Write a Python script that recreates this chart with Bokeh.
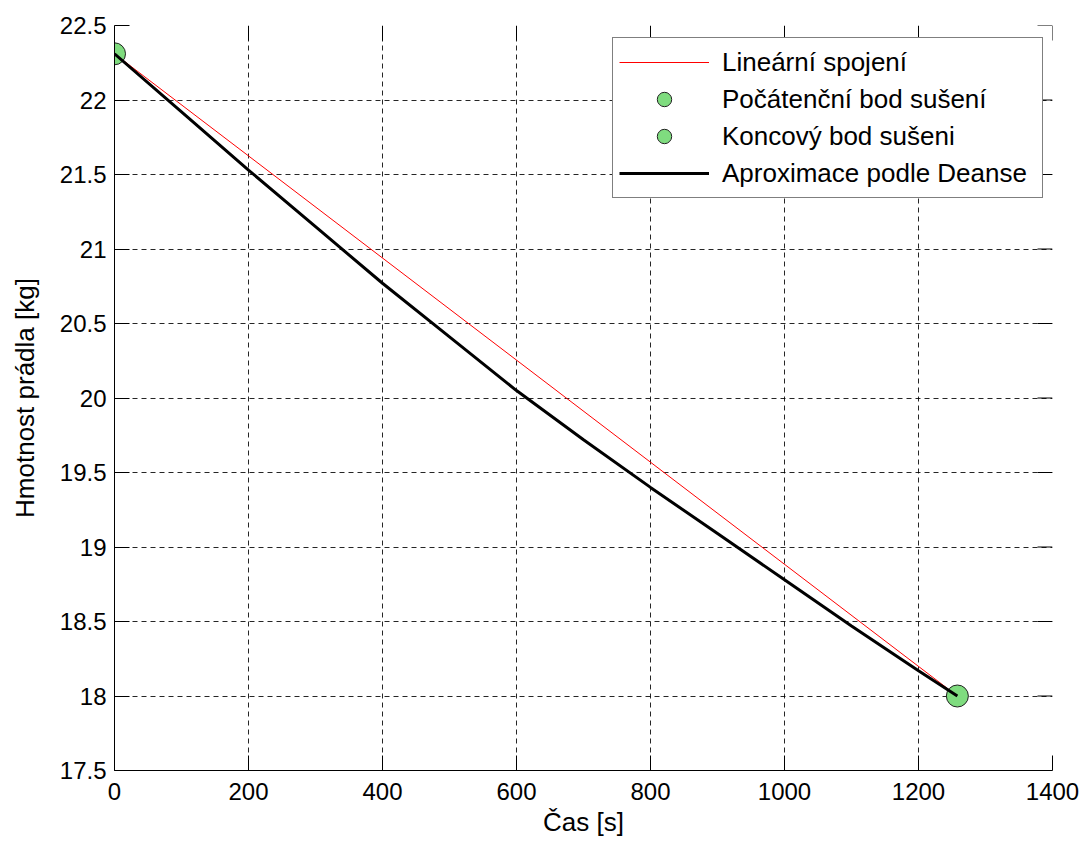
import math
from bokeh.plotting import figure
from bokeh.models import Range1d, FixedTicker, Legend, LegendItem
from bokeh.embed import file_html
from bokeh.resources import INLINE

# ---- data ----
linear_t = [0, 1258]
linear_m = [22.31, 18.00]

start_t = [0]
start_m = [22.31]
end_t = [1258]
end_m = [18.00]

deanse_t = [0, 100, 200, 300, 400, 500, 600, 700, 800, 900, 1000, 1100, 1200, 1258]
deanse_m = [22.31, 21.92, 21.53, 21.15, 20.77, 20.41, 20.05, 19.72, 19.40, 19.09,
            18.78, 18.47, 18.17, 18.00]

x_ticks = [0, 200, 400, 600, 800, 1000, 1200, 1400]
x_tick_labels = ["0", "200", "400", "600", "800", "1000", "1200", "1400"]
y_ticks = [17.5, 18, 18.5, 19, 19.5, 20, 20.5, 21, 21.5, 22, 22.5]
y_tick_labels = ["17.5", "18", "18.5", "19", "19.5", "20", "20.5", "21", "21.5", "22", "22.5"]

labels = ["Lineární spojení", "Počátenční bod sušení", "Koncový bod sušeni",
          "Aproximace podle Deanse"]

FONT = "Liberation Sans"
GREEN = "#7fdc7f"

p = figure(width=1083, height=843, output_backend="svg", toolbar_location=None,
           x_range=Range1d(x_ticks[0], x_ticks[-1]), y_range=Range1d(y_ticks[0], y_ticks[-1]),
           min_border_left=114, min_border_right=31, min_border_top=25,
           min_border_bottom=73, background_fill_color="white",
           border_fill_color="white")
p.outline_line_color = None

# axes
for ax, ticks, labs in ((p.xaxis[0], x_ticks, x_tick_labels), (p.yaxis[0], y_ticks, y_tick_labels)):
    ax.ticker = FixedTicker(ticks=ticks)
    ax.major_label_overrides = {t: l for t, l in zip(ticks, labs)}
    ax.major_tick_in = 15
    ax.major_tick_out = 0
    ax.minor_tick_line_color = None
    ax.axis_line_color = "black"
    ax.major_tick_line_color = "black"
    ax.major_label_text_font = FONT
    ax.major_label_text_font_size = "24px"
    ax.major_label_text_color = "black"
    ax.axis_label_text_font = FONT
    ax.axis_label_text_font_size = "26px"
    ax.axis_label_text_font_style = "normal"
    ax.axis_label_text_color = "black"

p.xaxis.major_label_standoff = 12
p.yaxis.major_label_standoff = 8
p.xaxis.axis_label = "Čas [s]"
p.yaxis.axis_label = "Hmotnost prádla [kg]"
p.xaxis.axis_label_standoff = 4
p.yaxis.axis_label_standoff = 17

# grid
for g in (p.xgrid[0], p.ygrid[0]):
    g.grid_line_color = "black"
    g.grid_line_dash = "5 4"
    g.grid_line_width = 1
    g.grid_line_alpha = 0.85
p.xgrid.ticker = FixedTicker(ticks=x_ticks)
p.ygrid.ticker = FixedTicker(ticks=y_ticks)

# inward tick marks on the top and right edges
p.ray(x=x_ticks, y=[y_ticks[-1]] * len(x_ticks), length=15, length_units="screen",
      angle=-math.pi / 2, line_color="black", line_width=1)
p.ray(x=[x_ticks[-1]] * len(y_ticks), y=y_ticks, length=15, length_units="screen",
      angle=math.pi, line_color="black", line_width=1)

# glyphs
r_lin = p.line(linear_t, linear_m, line_color="#ff0000", line_width=1)
r_start = p.scatter(start_t, start_m, marker="circle", size=22,
                    fill_color=GREEN, line_color="#222222", line_width=1)
r_end = p.scatter(end_t, end_m, marker="circle", size=22,
                  fill_color=GREEN, line_color="#222222", line_width=1)
r_dea = p.line(deanse_t, deanse_m, line_color="black", line_width=3)

legend = Legend(items=[LegendItem(label=labels[0], renderers=[r_lin]),
                       LegendItem(label=labels[1], renderers=[r_start]),
                       LegendItem(label=labels[2], renderers=[r_end]),
                       LegendItem(label=labels[3], renderers=[r_dea])],
                location=(498, 572))
legend.label_text_font = FONT
legend.label_text_font_size = "26px"
legend.label_text_color = "black"
legend.glyph_width = 90
legend.glyph_height = 36
legend.label_standoff = 13
legend.label_width = 314
legend.spacing = 1
legend.padding = 6
legend.margin = 0
legend.border_line_color = "black"
legend.border_line_width = 1
legend.background_fill_color = "white"
legend.background_fill_alpha = 1
p.add_layout(legend, "center")

open("out.html", "w").write(file_html(p, INLINE))
